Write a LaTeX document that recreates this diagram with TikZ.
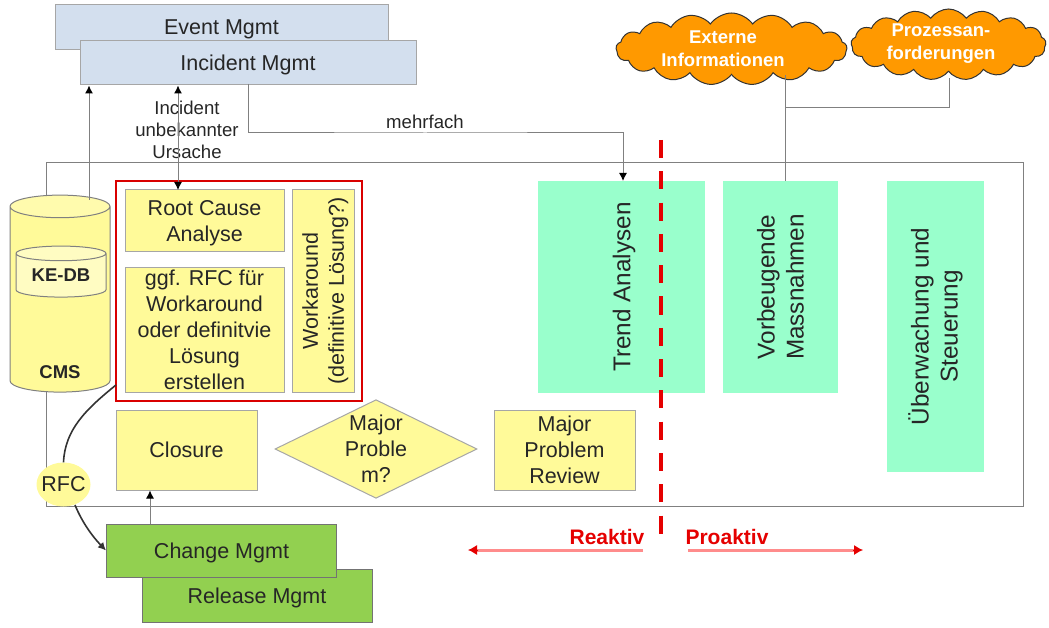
\documentclass[tikz,border=0pt]{standalone}
\usepackage{fontspec}
\setmainfont{Liberation Sans}
\usetikzlibrary{shapes.geometric, shapes.symbols, arrows.meta}
\definecolor{bluefill}{HTML}{D3DFEE}
\definecolor{yellowfill}{HTML}{FFFA99}
\definecolor{mintfill}{HTML}{99FFCC}
\definecolor{greenfill}{HTML}{92D050}
\definecolor{orangefill}{HTML}{FF9900}
\definecolor{linegray}{HTML}{808080}
\definecolor{textgray}{HTML}{262626}

\begin{document}
\begin{tikzpicture}[x=1pt, y=-1pt, text=textgray, font=\fontsize{21.5}{26}\selectfont]
\tikzstyle{box} = [rectangle, align=center, inner sep=0pt, text depth=0pt, draw=linegray!70, line width=1pt]
\tikzstyle{mgmt} = [box, fill=bluefill, minimum width=336, minimum height=44]
\tikzstyle{tool} = [box, fill=greenfill, draw=black!55, minimum width=230, minimum height=53]
\tikzstyle{task} = [box, fill=yellowfill]
\tikzstyle{phase} = [rectangle, align=center, inner sep=0pt, fill=mintfill, rotate=90, font=\fontsize{24.3}{29}\selectfont]
\tikzstyle{store} = [cylinder, shape border rotate=90, cylinder uses custom fill, draw=black!50, line width=1pt, inner sep=0pt, align=center, font=\fontsize{18.5}{22}\selectfont\bfseries]
\tikzstyle{source} = [cloud, cloud puffs=17, cloud puff arc=110, aspect=3.2, draw=black!80, fill=orangefill, line width=1pt, inner sep=0pt]
\tikzstyle{sourcetext} = [align=center, text=white, font=\fontsize{18.5}{23}\selectfont\bfseries]
\tikzstyle{small} = [align=center, font=\fontsize{18.6}{22}\selectfont]
\tikzstyle{side} = [text=red!90!black, font=\fontsize{21}{24}\selectfont\bfseries]
\tikzstyle{line} = [linegray, line width=1pt]
\tikzstyle{arrow} = [line, -{Latex[length=8pt,width=8pt,color=black]}]
\tikzstyle{both} = [line, {Latex[length=8pt,width=8pt,color=black]}-{Latex[length=8pt,width=8pt,color=black]}]
\tikzstyle{flow} = [black!80, line width=1.6pt]
\tikzstyle{sidearrow} = [red!45, line width=3pt]
\tikzstyle{sidetip} = [red!90!black, line width=1pt, -{Latex[length=9pt,width=10pt]}]

\useasboundingbox (0,0) rectangle (1049,628);

\node (frame) [rectangle, draw=linegray, line width=1pt, minimum width=977, minimum height=343, inner sep=0pt] at (534.5,334.5) {};

\node (eventm) [mgmt, minimum width=333, minimum height=45] at (221.5,27.5) {Event Mgmt};
\node (incidentm) [mgmt] at (248,63) {Incident Mgmt};

\node (releasem) [tool] at (257,595.5) {Release Mgmt};
\node (changem) [tool] at (221.5,550.5) {Change Mgmt};

\node (cms) [store, minimum width=100, minimum height=197, aspect=0.55, cylinder end fill=yellowfill!80!white, cylinder body fill=yellowfill] at (60,299.5) {\raisebox{-76pt}[10pt][5pt]{CMS}};
\node (kedb) [store, minimum width=90, minimum height=51, aspect=0.25, cylinder end fill=yellowfill!60!white, cylinder body fill=yellowfill!60!white] at (61,275.5) {\raisebox{-4pt}{KE-DB}};

\node (rcbox) [rectangle, draw=red!85!black, line width=2pt, minimum width=246, minimum height=220, inner sep=0pt] at (239,291) {};
\node (rootcause) [task, minimum width=159, minimum height=62] at (204.5,221) {Root Cause\\Analyse};
\node (rfcwork) [task, minimum width=159, minimum height=124] at (204.5,330) {ggf. RFC für\\Workaround\\oder definitvie\\Lösung\\erstellen};
\node (workaround) [task, rotate=90, minimum width=202, minimum height=62] at (323,291) {Workaround\\(definitive Lösung?)};

\node (closure) [task, minimum width=141, minimum height=80] at (186.5,450) {Closure};
\node (major) [task, diamond, shape aspect=2, minimum width=202, minimum height=98] at (376,449) {Major\\Proble\\m?};
\node (review) [task, minimum width=141, minimum height=80] at (564.5,450) {Major\\Problem\\Review};

\node (trend) [phase, text depth=0pt, minimum width=212, minimum height=167] at (621.5,287) {Trend Analysen};
\node (vorbeugend) [phase, minimum width=212, minimum height=115] at (780.5,287) {Vorbeugende\\Massnahmen};
\node (ueberwachung) [phase, minimum width=291, minimum height=97] at (935.5,326.5) {Überwachung und\\Steuerung};

\node (extern) [source, minimum width=231, minimum height=72] at (731.5,49) {};
\node (anforderung) [source, minimum width=195, minimum height=71] at (948.5,44.5) {};
\node (externtext) [sourcetext] at (723,49) {Externe\\Informationen};
\node (anforderungtext) [sourcetext] at (941,44) {Prozessan-\\forderungen};

\node (rfc) [ellipse, fill=yellowfill, inner sep=-6pt, minimum width=54, minimum height=44] at (63.5,484.5) {RFC};

\node (unknown) [small] at (187,130) {Incident\\unbekannter\\Ursache};
\node (often) [small] at (425,122) {mehrfach};
\node (reaktiv) [side] at (607,537) {Reaktiv};
\node (proaktiv) [side] at (727,537) {Proaktiv};

\coordinate (cmsup) at (89,200);
\coordinate (rootup) at (178,190);
\coordinate (oftenout) at (248,84);
\coordinate (oftenin) at (623,181);
\coordinate (closureup) at (150,524);
\coordinate (splitup) at (785,181);
\coordinate (splitmid) at (785,108);
\coordinate (reaktivstart) at (643,550);
\coordinate (reaktivend) at (468,550);
\coordinate (proaktivstart) at (688,550);
\coordinate (proaktivend) at (863,550);
\coordinate (dashtop) at (661,140);
\coordinate (dashbottom) at (661,534);

\draw [arrow] (cmsup) -- (cmsup |- incidentm.south);
\draw [both] (rootup) -- (rootup |- incidentm.south);
\draw [arrow] (oftenout) |- (425,133) -| (oftenin);
\draw [arrow] (closureup) -- (closureup |- closure.south);
\draw [line] (splitup) -- (splitup |- extern.south);
\draw [line] (splitmid) -| (949,78);

\draw [flow] (116,385) .. controls (85,410) and (65,430) .. (rfc.north);
\draw [flow, -{Latex[length=8pt,width=8pt]}] (75,505) .. controls (82,522) and (92,536) .. (changem.west);

\draw [red!90!black, line width=3.5pt, dash pattern=on 18pt off 13.3pt] (dashtop) -- (dashbottom);
\draw [sidearrow] (reaktivstart) -- (476,550);
\draw [sidearrow] (proaktivstart) -- (855,550);
\draw [sidetip] (478,550) -- (reaktivend);
\draw [sidetip] (853,550) -- (proaktivend);
\end{tikzpicture}
\end{document}
